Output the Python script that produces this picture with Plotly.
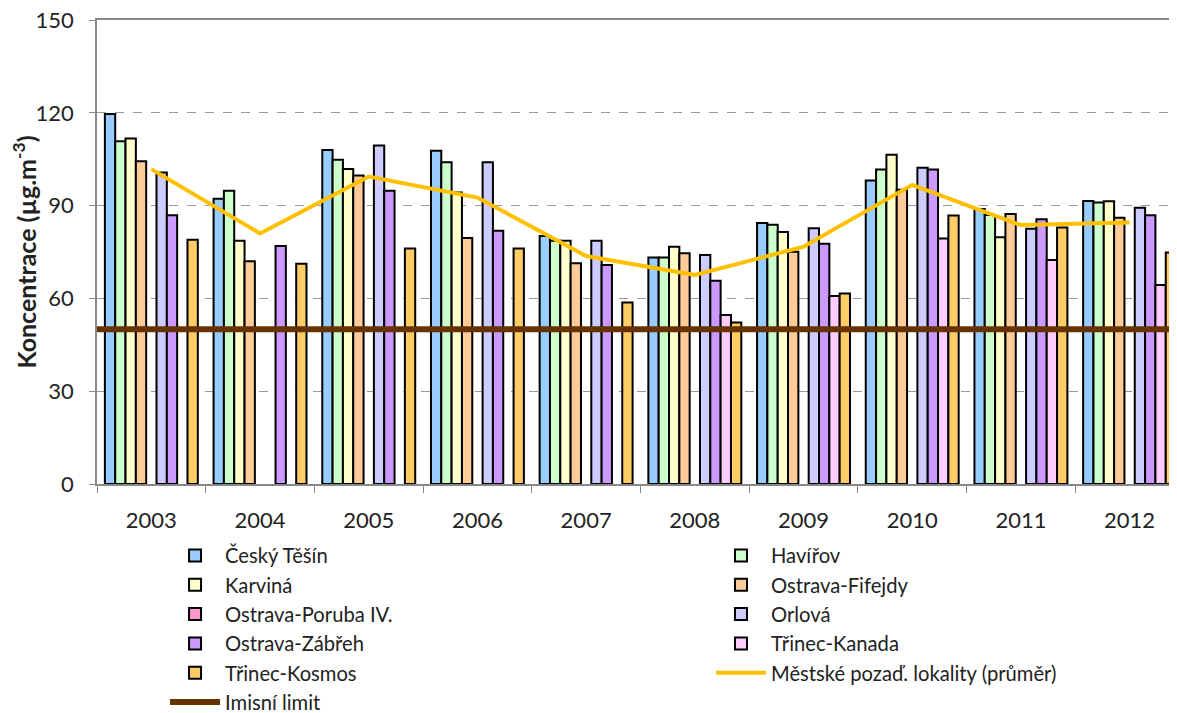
import plotly.graph_objects as go

# roky a stanice
years = ['2003', '2004', '2005', '2006', '2007', '2008', '2009', '2010', '2011', '2012']
stations = ['Český Těšín', 'Havířov', 'Karviná', 'Ostrava-Fifejdy', 'Ostrava-Poruba IV.',
            'Orlová', 'Ostrava-Zábřeh', 'Třinec-Kanada', 'Třinec-Kosmos']
colors = ['#99CCFF', '#CCFFCC', '#FFFFCC', '#FFCC99', '#FF99CC',
          '#CCCCFF', '#CC99FF', '#FFCCFF', '#FFCC66']
y_ticks = [0, 30, 60, 90, 120, 150]

# koncentrace (µg.m-3), None = chybí
cesky_tesin = [119.6, 92.2, 108.0, 107.7, 80.2, 73.2, 84.4, 98.1, 88.9, 91.5]
havirov = [110.8, 94.8, 104.8, 104.0, 78.6, 73.2, 83.8, 101.7, 87.0, 91.0]
karvina = [111.7, 78.6, 101.8, 94.2, 78.6, 76.7, 81.5, 106.4, 79.8, 91.4]
fifejdy = [104.3, 72.0, 99.7, 79.5, 71.4, 74.6, 75.1, 95.1, 87.3, 86.1]
poruba = [None] * 10
orlova = [100.7, None, 109.4, 104.0, 78.6, 74.0, 82.7, 102.2, 82.5, 89.3]
zabreh = [86.9, 76.9, 94.8, 81.9, 70.8, 65.7, 77.7, 101.7, 85.6, 86.9]
kanada = [None, None, None, None, None, 54.6, 60.8, 79.4, 72.4, 64.3]
kosmos = [79.0, 71.2, 76.1, 76.1, 58.7, 52.2, 61.6, 86.8, 82.9, 74.8]

prumer = [101.8, 81.0, 99.4, 92.6, 73.7, 67.6, 76.7, 96.7, 83.7, 84.5]
limit_value = 50

series = [cesky_tesin, havirov, karvina, fifejdy, poruba, orlova, zabreh, kanada, kosmos]
xpos = list(range(len(years)))

fig = go.Figure()
# legenda ve dvou sloupcich: sude polozky vlevo, liche vpravo
for i, (name, vals, col) in enumerate(zip(stations, series, colors)):
    fig.add_trace(go.Bar(x=xpos, y=vals, name=name, marker_color=col,
                         marker_line=dict(color='black', width=2),
                         legend='legend' if i % 2 == 0 else 'legend2'))

fig.add_trace(go.Scatter(x=xpos, y=prumer, mode='lines',
                         name='Městské pozaď. lokality (průměr)',
                         line=dict(color='#FFC000', width=4), legend='legend2'))
fig.add_trace(go.Scatter(x=[-0.5, len(years) - 0.5], y=[limit_value, limit_value],
                         mode='lines', name='Imisní limit',
                         line=dict(color='#663300', width=6), legend='legend'))

font = 'Lato, Open Sans, sans-serif'
leg = dict(orientation='v', y=-0.112, xanchor='left', yanchor='top',
           font=dict(size=20.2), itemwidth=50, tracegroupgap=0, bgcolor='rgba(0,0,0,0)')
fig.update_layout(
    width=1169, height=705,
    margin=dict(l=89, r=0, t=12, b=229, autoexpand=False),
    plot_bgcolor='white', paper_bgcolor='white',
    barmode='group', bargap=0.145, bargroupgap=0,
    font=dict(family=font, size=22, color='#222'),
    showlegend=True,
    legend=dict(leg, x=0.063),
    legend2=dict(leg, x=0.5685),
)
fig.update_xaxes(range=[-0.5, 9.436], tickvals=xpos, ticktext=years, ticks='',
                 showline=True, mirror=True, linecolor='#888', linewidth=1.5, showgrid=False,
                 zeroline=False, tickfont=dict(size=22), ticklabelstandoff=16,
                 minor=dict(tickvals=[i - 0.5 for i in range(len(years) + 1)],
                            ticks='outside', ticklen=7, tickcolor='#888', showgrid=False))
fig.update_yaxes(range=[0, 150], tickvals=y_ticks,
                 ticktext=[f'{v}\u2002' for v in y_ticks], ticklabeloverflow='allow',
                 showline=True, linecolor='#888', linewidth=1.5,
                 ticks='outside', ticklen=6, tickcolor='#888',
                 showgrid=True, gridcolor='#999', griddash='dash', gridwidth=1,
                 zeroline=False, tickfont=dict(size=22),
                 title=dict(text='<b>Koncentrace (µg.m<sup>-3</sup>)</b>',
                            font=dict(size=25), standoff=3))

fig.write_html('out.html')
